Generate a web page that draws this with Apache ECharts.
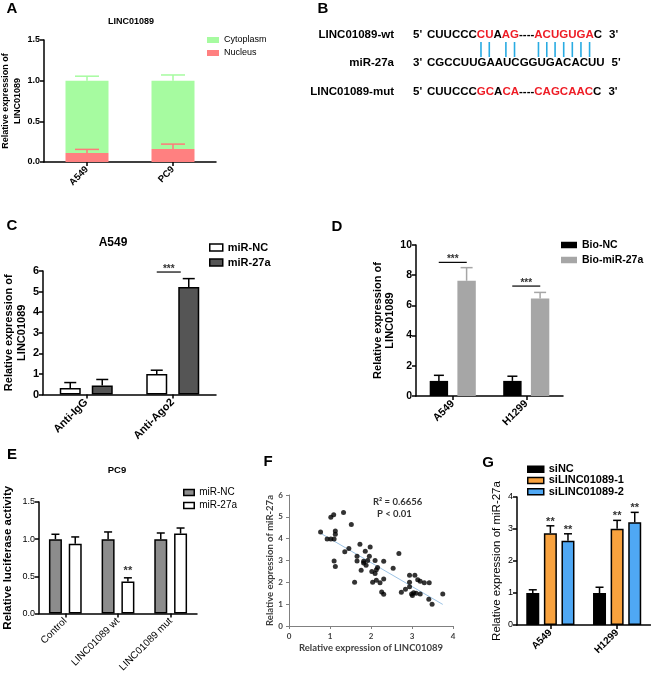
<!DOCTYPE html>
<html><head><meta charset="utf-8">
<script src="https://cdn.jsdelivr.net/npm/echarts@6/dist/echarts.min.js"></script>
<style>html,body{margin:0;padding:0;background:#fff}#c{width:651px;height:681px}</style>
</head><body><div id="c"></div>
<script>
// ---------- DATA ----------
// Panel A
const aCats = ['A549', 'PC9'];
const aNucleus = [0.11, 0.16];
const aNucleusErr = [0.045, 0.06];
const aCytoplasm = [0.89, 0.84];
const aCytoplasmErr = [0.055, 0.07];
const aYTicks = [0, 0.5, 1.0, 1.5];
// Panel B
const bLabels = ['LINC01089-wt', 'miR-27a', 'LINC01089-mut'];
const bLeftEnds = ["5'", "3'", "5'"];
const bRightEnds = ["3'", "5'", "3'"];
const bSeqWt = [['CUUCCC', 0], ['CU', 1], ['A', 0], ['AG', 1], ['----', 0], ['ACUGUGA', 1], ['C', 0]];
const bSeqMir = [['CGCCUUGAAUCGGUGACACUU', 0]];
const bSeqMut = [['CUUCCC', 0], ['GC', 1], ['A', 0], ['CA', 1], ['----', 0], ['CAGCAAC', 1], ['C', 0]];
const bPairIdx = [6, 7, 9, 10, 15, 16, 17, 18, 19, 20, 21];
// Panel C
const cCats = ['Anti-IgG', 'Anti-Ago2'];
const cNC = [0.32, 1.0];
const cNCErr = [0.26, 0.18];
const c27a = [0.44, 5.22];
const c27aErr = [0.29, 0.41];
const cYTicks = [0, 1, 2, 3, 4, 5, 6];
const cSig = [{cat: 1, y: 5.95, dx1: -16, dx2: 8, text: '***'}];
// Panel D
const dCats = ['A549', 'H1299'];
const dNC = [1.0, 1.0];
const dNCErr = [0.37, 0.31];
const dMiR = [7.63, 6.46];
const dMiRErr = [0.87, 0.40];
const dYTicks = [0, 2, 4, 6, 8, 10];
const dSig = [{cat: 0, y: 8.85, dx1: -14, dx2: 14, text: '***'}, {cat: 1, y: 7.28, dx1: -14, dx2: 14, text: '***'}];
// Panel E
const eCats = ['Control', 'LINC01089 wt', 'LINC01089 mut'];
const eNC = [1.0, 1.0, 1.0];
const eNCErr = [0.066, 0.097, 0.083];
const e27a = [0.94, 0.43, 1.075];
const e27aErr = [0.09, 0.05, 0.075];
const e27aStars = ['', '**', ''];
const eYTicks = [0, 0.5, 1.0, 1.5];
// Panel F
const fPoints = [
  [0.77,4.31],[0.93,3.98],[1.02,3.98],[1.1,3.98],[1.02,4.98],[1.09,5.1],[1.13,4.35],[1.13,4.2],
  [1.1,2.98],[1.13,2.72],[1.33,5.2],[1.52,4.65],[1.36,3.4],[1.46,3.55],[1.6,2.0],
  [1.66,3.2],[1.66,2.98],[1.73,3.75],[1.76,2.55],[1.82,2.97],[1.82,2.88],[1.86,3.42],[1.88,2.78],
  [1.92,3.0],[1.96,3.2],[1.98,3.62],[2.02,2.5],[2.04,2.0],[2.1,3.0],[2.1,2.4],[2.13,2.58],
  [2.16,2.68],[2.13,2.1],[2.22,1.98],[2.26,1.56],[2.31,1.45],[2.31,2.15],[2.31,2.97],[2.54,2.65],
  [2.68,3.32],[2.74,1.55],[2.84,1.68],[2.94,2.0],[2.94,2.32],[2.94,1.8],[2.99,1.46],[3.01,1.4],
  [3.04,1.52],[3.07,2.32],[3.1,1.5],[3.14,2.12],[3.2,1.47],[3.2,2.05],[3.3,1.98],[3.42,1.98],
  [3.41,1.22],[3.49,1.0],[3.75,1.46]
];
const fXTicks = [0, 1, 2, 3, 4];
const fYTicks = [0, 1, 2, 3, 4, 5, 6];
const fStats = ['R\u00b2 = 0.6656', 'P < 0.01'];
// Panel G
const gCats = ['A549', 'H1299'];
const gSiNC = [1.0, 1.0];
const gSiNCErr = [0.1, 0.18];
const gSi1 = [2.87, 3.01];
const gSi1Err = [0.23, 0.26];
const gSi2 = [2.63, 3.21];
const gSi2Err = [0.22, 0.31];
const gSi1Stars = ['**', '**'];
const gSi2Stars = ['**', '**'];
const gYTicks = [0, 1, 2, 3, 4];

// ---------- HELPERS ----------
const FF = 'Liberation Sans';
const FF2 = 'Lato';
function grid(l, t, w, h) { return {left: l, top: t, width: w, height: h, outerBoundsMode: 'none', containLabel: false}; }
function catAxis(gi, cats, fs, fw, margin) {
  return {type: 'category', gridIndex: gi, data: cats,
    axisLine: {show: true, lineStyle: {color: '#000', width: 1.5}},
    axisTick: {show: true, alignWithLabel: true, length: 4, lineStyle: {color: '#000', width: 1.5}},
    axisLabel: {rotate: 45, interval: 0, margin: margin, fontSize: fs, fontWeight: fw, fontFamily: FF, color: '#000'},
    splitLine: {show: false}};
}
function valAxis(gi, ticks, fs, fw, dec, name, nfs, nfw, ngap, nlh) {
  return {type: 'value', gridIndex: gi, min: ticks[0], max: ticks[ticks.length - 1], interval: ticks[1] - ticks[0],
    axisLine: {show: true, lineStyle: {color: '#000', width: 1.5}},
    axisTick: {show: true, length: 4, lineStyle: {color: '#000', width: 1.5}},
    axisLabel: {fontSize: fs, fontWeight: fw, fontFamily: FF, color: '#000', margin: 4,
      formatter: v => v.toFixed(dec)},
    splitLine: {show: false},
    name: name, nameLocation: 'middle', nameRotate: 90, nameGap: ngap,
    nameTextStyle: {fontSize: nfs, fontWeight: nfw, fontFamily: FF, color: '#000', lineHeight: nlh}};
}
function bar(gi, name, data, color, w, gap, border, stack) {
  const s = {type: 'bar', name: name, xAxisIndex: gi, yAxisIndex: gi, data: data, barWidth: w,
    barGap: (gap / w * 100) + '%', itemStyle: {color: color}, silent: true, z: 2};
  if (border) { s.itemStyle.borderColor = '#000'; s.itemStyle.borderWidth = 1.5; }
  if (stack) s.stack = stack;
  return s;
}
function errBar(gi, vals, errs, base, n, i, w, gap, capW, color, stars, starGap) {
  const data = vals.map((v, k) => [k, v + (base ? base[k] : 0), errs[k], k]);
  return {type: 'custom', xAxisIndex: gi, yAxisIndex: gi, data: data, encode: {x: 0, y: 1}, z: 5, silent: true,
    renderItem: function (params, api) {
      const k = api.value(3);
      const c = api.coord([api.value(0), api.value(1)]);
      const t = api.coord([api.value(0), api.value(1) + api.value(2)]);
      const total = n * w + (n - 1) * gap;
      const x = c[0] - total / 2 + w / 2 + i * (w + gap);
      const ch = [
        {type: 'line', shape: {x1: x, y1: c[1], x2: x, y2: t[1]}, style: {stroke: color, lineWidth: 1.5}},
        {type: 'line', shape: {x1: x - capW / 2, y1: t[1], x2: x + capW / 2, y2: t[1]}, style: {stroke: color, lineWidth: 1.5}}
      ];
      if (stars && stars[k]) ch.push({type: 'text', style: {text: stars[k], x: x, y: t[1] - starGap, align: 'center', verticalAlign: 'middle',
        font: 'bold 11px "' + FF + '"', fill: '#333'}});
      return {type: 'group', children: ch};
    }};
}
function sigSeries(gi, items) {
  return {type: 'custom', xAxisIndex: gi, yAxisIndex: gi, data: items.map((s, k) => [s.cat, s.y, k]), encode: {x: 0, y: 1}, z: 5, silent: true,
    renderItem: function (params, api) {
      const s = items[api.value(2)];
      const p = api.coord([api.value(0), api.value(1)]);
      return {type: 'group', children: [
        {type: 'line', shape: {x1: p[0] + s.dx1, y1: p[1], x2: p[0] + s.dx2, y2: p[1]}, style: {stroke: '#000', lineWidth: 1.2}},
        {type: 'text', style: {text: s.text, x: p[0] + (s.dx1 + s.dx2) / 2, y: p[1] - 3, align: 'center', verticalAlign: 'middle',
          font: 'bold 10px "' + FF + '"', fill: '#333'}}
      ]};
    }};
}
function legend(names, left, top, iw, ih, fs, fw, lh, border) {
  const l = {data: names, orient: 'vertical', left: left, top: top, itemWidth: iw, itemHeight: ih, itemGap: 0, padding: 0,
    icon: 'rect', selectedMode: false, textStyle: {fontSize: fs, fontWeight: fw, fontFamily: FF, color: '#000', lineHeight: lh}};
  if (border) l.itemStyle = {borderColor: '#000', borderWidth: 1.5};
  return l;
}

// ---------- Panel B graphics ----------
const ctx = document.createElement('canvas').getContext('2d');
const bFont = 'bold 11.5px "' + FF + '"';
ctx.font = bFont;
const tw = s => ctx.measureText(s).width;
const graphics = [];
function txt(text, x, y, font, fill, align, rot) {
  graphics.push({type: 'text', x: x, y: y, rotation: rot || 0, style: {text: text, x: 0, y: 0, font: font, fill: fill || '#000', align: align || 'left', verticalAlign: 'middle'}, silent: true});
}
const bRowsY = [35, 63, 92];
const bSeqs = [bSeqWt, bSeqMir, bSeqMut];
const bSeqX = 427;
bSeqs.forEach((seq, r) => {
  const y = bRowsY[r];
  txt(bLabels[r], 394, y, bFont, '#000', 'right');
  txt(bLeftEnds[r], 413, y, bFont, '#000', 'left');
  let x = bSeqX;
  seq.forEach(([s, red]) => { txt(s, x, y, bFont, red ? '#ee1c25' : '#000', 'left'); x += tw(s); });
  txt(bRightEnds[r], x + 7, y, bFont, '#000', 'left');
});
const wtStr = bSeqWt.map(s => s[0]).join('');
bPairIdx.forEach(i => {
  const x = bSeqX + tw(wtStr.slice(0, i)) + tw(wtStr[i]) / 2;
  graphics.push({type: 'line', shape: {x1: x, y1: 42, x2: x, y2: 57}, style: {stroke: '#29abe2', lineWidth: 1.6}, silent: true});
});
// Panel letters
[['A', 12, 9], ['B', 323, 9], ['C', 12, 226], ['D', 337, 227], ['E', 12, 455], ['F', 268, 462], ['G', 488, 463]].forEach(([t, x, y]) =>
  txt(t, x, y, 'bold 15px "' + FF + '"', '#000', 'center'));
// Titles
txt('LINC01089', 131, 22, 'bold 9px "' + FF + '"', '#000', 'center');
txt('A549', 113, 243, 'bold 12px "' + FF + '"', '#000', 'center');
txt('PC9', 117, 470, 'bold 9.5px "' + FF + '"', '#000', 'center');
// F stats
txt(fStats[0], 373, 502, 'bold 9.5px "' + FF2 + '"', '#333', 'left');
txt(fStats[1], 377, 514, 'bold 9.5px "' + FF2 + '"', '#333', 'left');

// ---------- Panel F trend (least squares from the points) ----------
const fn = fPoints.length;
const mx = fPoints.reduce((a, p) => a + p[0], 0) / fn;
const my = fPoints.reduce((a, p) => a + p[1], 0) / fn;
const sxy = fPoints.reduce((a, p) => a + (p[0] - mx) * (p[1] - my), 0);
const sxx = fPoints.reduce((a, p) => a + (p[0] - mx) * (p[0] - mx), 0);
const slope = sxy / sxx, icpt = my - slope * mx;
const xs = fPoints.map(p => p[0]);
const x0 = Math.min(...xs), x1 = Math.max(...xs);
const fTrend = [[x0, icpt + slope * x0], [x1, icpt + slope * x1]];

// ---------- OPTION ----------
const fAxisStyle = {
  axisLine: {show: true, lineStyle: {color: '#808080', width: 1}},
  axisTick: {show: true, length: 3, lineStyle: {color: '#808080'}},
  axisLabel: {fontSize: 8, fontWeight: 'bold', fontFamily: FF2, color: '#404040', margin: 6},
  splitLine: {show: false}
};
const option = {
  animation: false,
  backgroundColor: '#fff',
  grid: [grid(44, 40, 172, 122), grid(43, 271, 173, 123.5), grid(416, 245, 147, 151), grid(39, 502, 158, 111.5), grid(289, 495, 164, 131), grid(517, 497, 133.5, 128)],
  xAxis: [
    catAxis(0, aCats, 9.5, 'bold', 6),
    catAxis(1, cCats, 11, 'bold', 6),
    catAxis(2, dCats, 10.5, 'bold', 6),
    catAxis(3, eCats, 10, 'normal', 6),
    Object.assign({type: 'value', gridIndex: 4, min: fXTicks[0], max: fXTicks[fXTicks.length - 1], interval: fXTicks[1] - fXTicks[0],
      name: 'Relative expression of LINC01089', nameLocation: 'middle', nameGap: 17,
      nameTextStyle: {fontSize: 9.5, fontWeight: 'bold', fontFamily: FF2, color: '#404040'}}, fAxisStyle),
    catAxis(5, gCats, 10, 'bold', 6)
  ],
  yAxis: [
    valAxis(0, aYTicks, 9, 'bold', 1, 'Relative expression of\nLINC01089', 9, 'bold', 18, 12),
    valAxis(1, cYTicks, 11, 'bold', 0, 'Relative expression of\nLINC01089', 11, 'bold', 15, 13),
    valAxis(2, dYTicks, 10.5, 'bold', 0, 'Relative expression of\nLINC01089', 11, 'bold', 19, 12),
    valAxis(3, eYTicks, 9, 'normal', 1, 'Relative luciferase activity', 11.5, 'bold', 24, 14),
    Object.assign({type: 'value', gridIndex: 4, min: fYTicks[0], max: fYTicks[fYTicks.length - 1], interval: fYTicks[1] - fYTicks[0],
      name: 'Relative expression of miR-27a', nameLocation: 'middle', nameRotate: 90, nameGap: 12,
      nameTextStyle: {fontSize: 9.5, fontWeight: 'bold', fontFamily: FF2, color: '#404040'}}, fAxisStyle),
    valAxis(5, gYTicks, 9, 'normal', 0, 'Relative expression of miR-27a', 11.5, 'normal', 13, 14)
  ],
  legend: [
    legend(['Cytoplasm', 'Nucleus'], 207, 33.5, 12, 6, 9, 'normal', 13, false),
    legend(['miR-NC', 'miR-27a'], 209, 240, 13, 7, 11, 'bold', 15, true),
    legend(['Bio-NC', 'Bio-miR-27a'], 561, 237.5, 16, 6.5, 10.5, 'bold', 15, false),
    legend(['miR-NC ', 'miR-27a '], 183, 486, 10.5, 6, 10, 'normal', 13, true),
    legend(['siNC', 'siLINC01089-1', 'siLINC01089-2'], 527, 463.5, 16, 6, 11, 'bold', 11.3, true)
  ],
  graphic: graphics,
  series: [
    // A
    bar(0, 'Nucleus', aNucleus, '#ff8080', 43, 0, false, 'a'),
    bar(0, 'Cytoplasm', aCytoplasm, '#a6fba0', 43, 0, false, 'a'),
    errBar(0, aNucleus, aNucleusErr, null, 1, 0, 43, 0, 24, '#ff7a7a'),
    errBar(0, aCytoplasm, aCytoplasmErr, aNucleus, 1, 0, 43, 0, 24, '#a6fba0'),
    // C
    bar(1, 'miR-NC', cNC, '#fff', 21, 11, true),
    bar(1, 'miR-27a', c27a, '#555', 21, 11, true),
    errBar(1, cNC, cNCErr, null, 2, 0, 21, 11, 12, '#000'),
    errBar(1, c27a, c27aErr, null, 2, 1, 21, 11, 12, '#000'),
    sigSeries(1, cSig),
    // D
    bar(2, 'Bio-NC', dNC, '#000', 18.4, 9.3, false),
    bar(2, 'Bio-miR-27a', dMiR, '#a6a6a6', 18.4, 9.3, false),
    errBar(2, dNC, dNCErr, null, 2, 0, 18.4, 9.3, 10, '#000'),
    errBar(2, dMiR, dMiRErr, null, 2, 1, 18.4, 9.3, 12, '#a6a6a6'),
    sigSeries(2, dSig),
    // E
    bar(3, 'miR-NC ', eNC, '#8c8c8c', 13, 6.8, true),
    bar(3, 'miR-27a ', e27a, '#fff', 13, 6.8, true),
    errBar(3, eNC, eNCErr, null, 2, 0, 13, 6.8, 8, '#000'),
    errBar(3, e27a, e27aErr, null, 2, 1, 13, 6.8, 8, '#000', e27aStars, 7),
    // F
    {type: 'scatter', xAxisIndex: 4, yAxisIndex: 4, data: fPoints, symbolSize: 5, itemStyle: {color: '#000'}, silent: true, z: 3},
    {type: 'line', xAxisIndex: 4, yAxisIndex: 4, data: fTrend, symbol: 'none', lineStyle: {color: '#9cc3e5', width: 1}, silent: true, z: 2},
    // G
    bar(5, 'siNC', gSiNC, '#000', 13, 4.6, true),
    bar(5, 'siLINC01089-1', gSi1, '#f8a23e', 13, 4.6, true),
    bar(5, 'siLINC01089-2', gSi2, '#4fa8f4', 13, 4.6, true),
    errBar(5, gSiNC, gSiNCErr, null, 3, 0, 13, 4.6, 8, '#000'),
    errBar(5, gSi1, gSi1Err, null, 3, 1, 13, 4.6, 8, '#000', gSi1Stars, 4),
    errBar(5, gSi2, gSi2Err, null, 3, 2, 13, 4.6, 8, '#000', gSi2Stars, 4)
  ]
};
const chart = echarts.init(document.getElementById('c'), null, {renderer: 'canvas', width: 651, height: 681});
chart.setOption(option);
</script>
</body></html>
